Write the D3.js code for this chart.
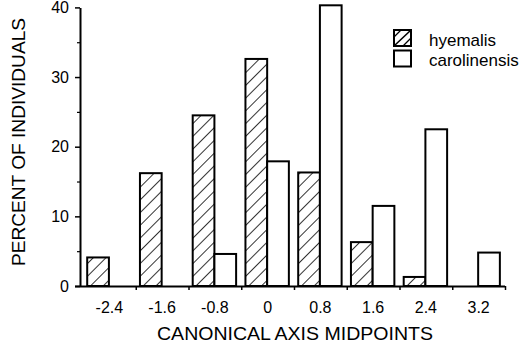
<!DOCTYPE html>
<html>
<head>
<meta charset="utf-8">
<script src="https://cdn.jsdelivr.net/npm/d3@7"></script>
<style>
  html, body { margin: 0; padding: 0; background: #fff; }
  svg { display: block; font-family: "Liberation Sans", Arial, Helvetica, sans-serif; }
</style>
</head>
<body>
<svg id="chart" width="530" height="348"></svg>
<script>
// ---- data ----
const categories = ["-2.4", "-1.6", "-0.8", "0", "0.8", "1.6", "2.4", "3.2"];
const seriesNames = ["hyemalis", "carolinensis"];
const hyemalis = [4.1, 16.2, 24.5, 32.6, 16.3, 6.3, 1.3, 0];
const carolinensis = [0, 0, 4.6, 17.9, 40.3, 11.5, 22.5, 4.8];
const yTicks = [0, 10, 20, 30, 40];
const yMinorTicks = [5, 15, 25, 35];
const yTitle = "PERCENT OF INDIVIDUALS";
const xTitle = "CANONICAL AXIS MIDPOINTS";

const rows = categories.map((c, i) => ({ cat: c, hyemalis: hyemalis[i], carolinensis: carolinensis[i] }));

const svg = d3.select("#chart");

// hatch pattern
const defs = svg.append("defs");
const pat = defs.append("pattern")
  .attr("id", "hatch")
  .attr("patternUnits", "userSpaceOnUse")
  .attr("width", 9).attr("height", 9)
  .attr("patternTransform", "rotate(45)");
pat.append("rect").attr("width", 9).attr("height", 9).attr("fill", "#fff");
pat.append("line").attr("x1", 0).attr("y1", 0).attr("x2", 0).attr("y2", 9)
  .attr("stroke", "#000").attr("stroke-width", 1.6);

// scales
const x0 = d3.scaleBand().domain(categories).range([83, 505]).paddingInner(0).paddingOuter(0);
const x1 = d3.scaleBand().domain(seriesNames).range([0, x0.bandwidth()])
  .paddingInner(0).paddingOuter(0.215).align(0.45);
const y = d3.scaleLinear().domain([0, 40]).range([286, 7.4]);
const xIdx = d3.scaleLinear().domain([0, categories.length]).range(x0.range());

const fills = { hyemalis: "url(#hatch)", carolinensis: "#fff" };

// bars
const g = svg.append("g");
g.selectAll("g.grp").data(rows).join("g")
  .attr("class", "grp")
  .attr("transform", d => `translate(${x0(d.cat)},0)`)
  .selectAll("rect")
  .data(d => seriesNames.map(s => ({ s, v: d[s] })))
  .join("rect")
  .attr("x", d => x1(d.s))
  .attr("width", x1.bandwidth())
  .attr("y", d => y(d.v))
  .attr("height", d => y(0) - y(d.v))
  .attr("fill", d => fills[d.s])
  .attr("stroke", "#000")
  .attr("stroke-width", d => d.v > 0 ? 2 : 0);

// y axis
const yAxis = svg.append("g").attr("transform", "translate(80,0)")
  .call(d3.axisLeft(y).tickValues(yTicks).tickSize(5).tickSizeOuter(0).tickPadding(6));
yAxis.select(".domain").attr("stroke-width", 2);
yAxis.selectAll(".tick line").attr("stroke-width", 1.5);
yAxis.selectAll("text").attr("font-size", 16).attr("fill", "#000")
  .attr("font-family", "'Liberation Sans', Arial, sans-serif");

const yMinor = svg.append("g").attr("transform", "translate(80,0)")
  .call(d3.axisLeft(y).tickValues(yMinorTicks).tickSize(3).tickSizeOuter(0).tickFormat(""));
yMinor.select(".domain").remove();
yMinor.selectAll(".tick line").attr("stroke-width", 1.2);

// x axis: boundary ticks
const xAxis = svg.append("g").attr("transform", "translate(0,286)")
  .call(d3.axisBottom(xIdx).tickValues(d3.range(1, categories.length + 1)).tickSize(4).tickSizeOuter(0).tickFormat(""));
xAxis.select(".domain").attr("d", `M${75},0.5H${x0.range()[1]}`).attr("stroke-width", 2);
xAxis.selectAll(".tick line").attr("stroke-width", 1.5);

// x labels at centers
const xLab = svg.append("g").attr("transform", "translate(0,286)")
  .call(d3.axisBottom(x0).tickSize(0).tickPadding(16));
xLab.select(".domain").remove();
xLab.selectAll("text").attr("font-size", 16).attr("fill", "#000")
  .attr("font-family", "'Liberation Sans', Arial, sans-serif");

// titles
svg.append("text")
  .attr("transform", "translate(25,142) rotate(-90)")
  .attr("text-anchor", "middle")
  .attr("font-size", 18)
  .attr("textLength", 248)
  .attr("lengthAdjust", "spacingAndGlyphs")
  .text(yTitle);

svg.append("text")
  .attr("x", 295).attr("y", 340)
  .attr("text-anchor", "middle")
  .attr("font-size", 18)
  .attr("textLength", 276)
  .attr("lengthAdjust", "spacingAndGlyphs")
  .text(xTitle);

// legend
const legend = svg.append("g").attr("transform", "translate(394,30)");
seriesNames.forEach((s, i) => {
  const lg = legend.append("g").attr("transform", `translate(0,${i * 20.5})`);
  lg.append("rect").attr("x", 0).attr("y", 0).attr("width", 17).attr("height", 16)
    .attr("fill", "#fff").attr("stroke", "#000").attr("stroke-width", 2);
  if (s === "hyemalis") {
    lg.append("line").attr("x1", 0).attr("y1", 16).attr("x2", 17).attr("y2", 0)
      .attr("stroke", "#000").attr("stroke-width", 1.6);
    lg.append("line").attr("x1", 0).attr("y1", 7).attr("x2", 7).attr("y2", 0)
      .attr("stroke", "#000").attr("stroke-width", 1.2);
    lg.append("line").attr("x1", 9).attr("y1", 16).attr("x2", 17).attr("y2", 8)
      .attr("stroke", "#000").attr("stroke-width", 1.2);
  }
  lg.append("text").attr("x", 35).attr("y", 15.5)
    .attr("font-size", 17)
    .text(s);
});
</script>
</body>
</html>
